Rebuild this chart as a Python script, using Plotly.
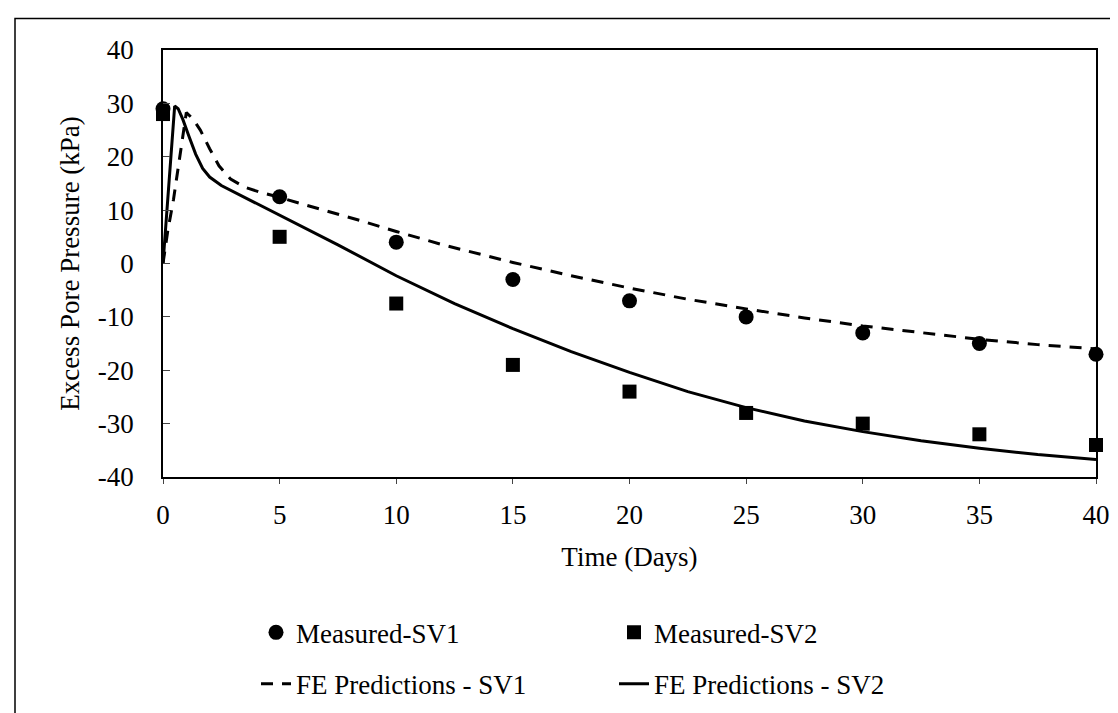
import plotly.graph_objects as go

# Measured data
t_meas = [0, 5, 10, 15, 20, 25, 30, 35, 40]
sv1_meas = [29, 12.5, 4, -3, -7, -10, -13, -15, -17]
sv2_meas = [28, 5, -7.5, -19, -24, -28, -30, -32, -34]

# FE predictions
t_fe1 = [0, 0.2, 0.45, 0.65, 0.85, 1.0, 1.3, 1.6, 2.0, 2.4, 2.9, 3.5, 4.2, 5, 6, 7,
         8.5, 10, 12, 15, 17.5, 20, 22.5, 25, 27.5, 30, 32.5, 35, 37.5, 40]
fe1 = [0, 6, 12, 18, 24, 28.3, 27, 25, 21.5, 18.3, 15.8, 14.3, 13.3, 12.4, 11.1, 9.9,
       8.0, 6.0, 3.5, 0.2, -2.3, -4.6, -6.7, -8.5, -10.2, -11.7, -13.0, -14.2, -15.2, -16.0]
t_fe2 = [0, 0.25, 0.5, 0.65, 0.85, 1.1, 1.4, 1.7, 2.0, 2.5, 3, 4, 5, 6, 7.5, 10,
         12.5, 15, 17.5, 20, 22.5, 25, 27.5, 30, 32.5, 35, 37.5, 40]
fe2 = [0, 15, 29.5, 29, 27, 24, 20.5, 17.8, 16.2, 14.6, 13.5, 11.3, 9.0, 6.8, 3.5, -2.3,
       -7.5, -12.2, -16.5, -20.4, -24, -27, -29.5, -31.5, -33.2, -34.6, -35.8, -36.7]

x_ticks = [0, 5, 10, 15, 20, 25, 30, 35, 40]
y_ticks = [-40, -30, -20, -10, 0, 10, 20, 30, 40]
y_ticktext = ["-40", "-30", "-20", "-10", "0", "10", "20", "30", "40"]

FONT = "Liberation Serif, Times New Roman, serif"

fig = go.Figure()
fig.add_trace(go.Scatter(x=t_meas, y=sv1_meas, mode="markers", name="Measured-SV1",
                         marker=dict(symbol="circle", size=15, color="black"),
                         legend="legend", cliponaxis=False))
fig.add_trace(go.Scatter(x=t_meas, y=sv2_meas, mode="markers", name="Measured-SV2",
                         marker=dict(symbol="square", size=14, color="black"),
                         legend="legend", cliponaxis=False))
fig.add_trace(go.Scatter(x=t_fe1, y=fe1, mode="lines", name="FE Predictions - SV1",
                         line=dict(color="black", width=3, dash="12px,9px"),
                         legend="legend2"))
fig.add_trace(go.Scatter(x=t_fe2, y=fe2, mode="lines", name="FE Predictions - SV2",
                         line=dict(color="black", width=3),
                         legend="legend2"))

L, T, R, B = 155, 42, 30, 238
W, H = 1118, 713
pw, ph = W - L - R, H - T - B

def px(x):
    return (x - L) / pw

def py(y):
    return (H - B - y) / ph

fig.add_shape(type="rect", xref="paper", yref="paper",
              x0=px(7), x1=px(1108), y0=py(730), y1=py(10),
              line=dict(color="black", width=1.5), layer="below")

legend_common = dict(orientation="h", xanchor="left", yanchor="middle",
                     entrywidth=313, entrywidthmode="pixels",
                     font=dict(family=FONT, size=27, color="black"),
                     bgcolor="rgba(0,0,0,0)", itemclick=False)

fig.update_layout(
    width=W, height=H,
    margin=dict(l=L, r=R, t=T, b=B),
    paper_bgcolor="white", plot_bgcolor="white",
    font=dict(family=FONT, size=27, color="black"),
    showlegend=True,
    legend=dict(x=px(248), y=py(633), **legend_common),
    legend2=dict(x=px(248), y=py(685), **legend_common),
    xaxis=dict(range=[0, 40], tickvals=x_ticks, ticks="outside", ticklen=5,
               showgrid=False, zeroline=False, showline=True, linecolor="black",
               linewidth=1.5, mirror=True, ticklabelstandoff=8,
               title=dict(text="Time (Days)", font=dict(size=27), standoff=18),
               tickfont=dict(size=27)),
    yaxis=dict(range=[-40, 40], tickvals=y_ticks, ticktext=y_ticktext,
               ticks="inside", ticklen=7,
               showgrid=False, zeroline=False, showline=True, linecolor="black",
               linewidth=1.5, mirror=True, ticklabelstandoff=22,
               title=dict(text="Excess Pore Pressure (kPa)", font=dict(size=27), standoff=10),
               tickfont=dict(size=27)),
)

fig.write_html("out.html")
